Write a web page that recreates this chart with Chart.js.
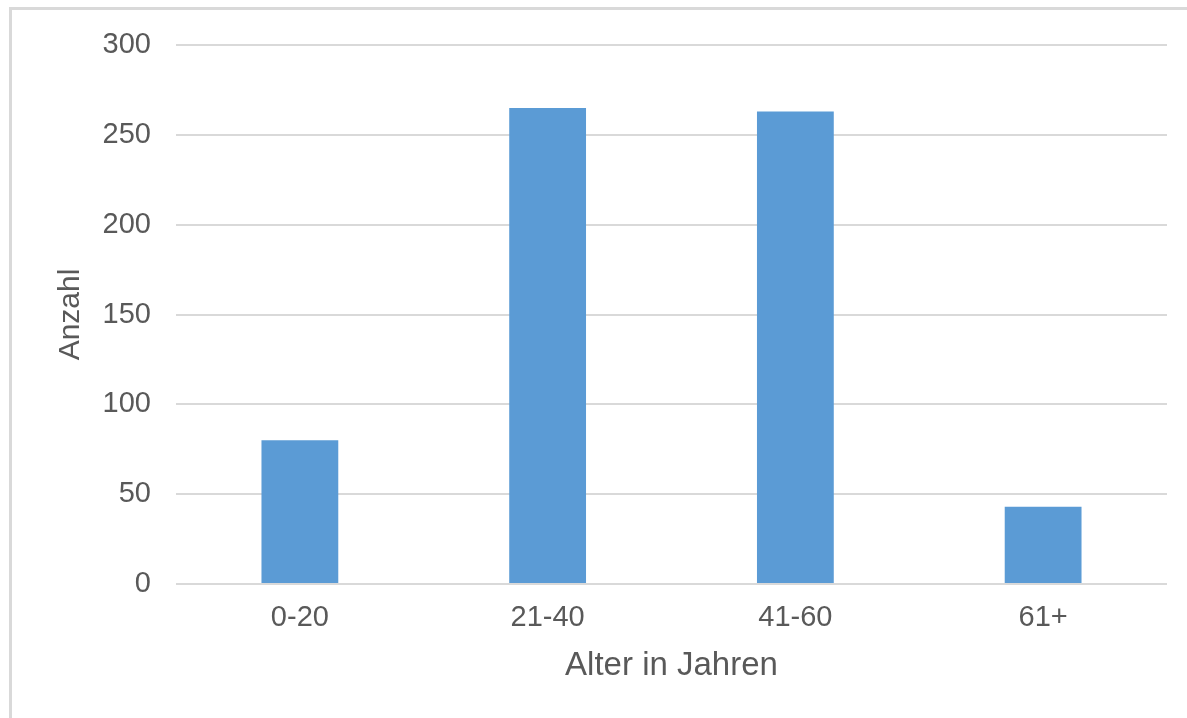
<!DOCTYPE html>
<html lang="de">
<head>
  <meta charset="UTF-8" />
  <title>Alter in Jahren</title>
  <script src="https://cdn.jsdelivr.net/npm/chart.js"></script>
  <style>
    html, body {
      margin: 0;
      padding: 0;
      background: #fff;
      overflow: hidden;
    }
    .frame {
      position: absolute;
      left: 9px;
      top: 7px;
      width: 2000px;
      height: 2000px;
      border-top: 3px solid #d9d9d9;
      border-left: 3px solid #d9d9d9;
    }
    .chart-box {
      position: absolute;
      left: 0;
      top: 0;
      width: 1187px;
      height: 718px;
    }
  </style>
</head>
<body>
  <div class="frame"></div>
  <div class="chart-box">
    <canvas id="ageChart"></canvas>
  </div>
  <script>
    const categories = ["0-20", "21-40", "41-60", "61+"];
    const counts = [80, 265, 263, 43];
    const yTicks = [0, 50, 100, 150, 200, 250, 300];

    const textColor = "#595959";
    const fontFamily = "'Liberation Sans', Arial, sans-serif";

    const ctx = document.getElementById("ageChart").getContext("2d");
    new Chart(ctx, {
      type: "bar",
      data: {
        labels: categories,
        datasets: [{
          label: "Anzahl",
          data: counts,
          backgroundColor: "#5b9bd5",
          barPercentage: 0.31,
          categoryPercentage: 1.0
        }]
      },
      options: {
        responsive: true,
        maintainAspectRatio: false,
        animation: false,
        layout: {
          padding: { left: 49, right: 20, top: 45, bottom: 32 }
        },
        plugins: {
          legend: { display: false },
          tooltip: { enabled: false }
        },
        scales: {
          x: {
            afterFit: (scale) => { scale.height = 102; },
            grid: { display: false },
            border: { display: false },
            ticks: {
              color: textColor,
              padding: 9,
              font: { family: fontFamily, size: 29 }
            },
            title: {
              display: true,
              text: "Alter in Jahren",
              color: textColor,
              padding: { top: 0, bottom: 0 },
              font: { family: fontFamily, size: 33 }
            }
          },
          y: {
            min: 0,
            max: 300,
            afterFit: (scale) => { scale.width = 127; },
            afterBuildTicks: (scale) => {
              scale.ticks = yTicks.map(v => ({ value: v }));
            },
            grid: {
              color: "#d9d9d9",
              lineWidth: 2,
              drawTicks: false
            },
            border: { display: false },
            ticks: {
              color: textColor,
              padding: 25,
              font: { family: fontFamily, size: 29 }
            },
            title: {
              display: true,
              text: "Anzahl",
              color: textColor,
              padding: 4,
              font: { family: fontFamily, size: 30 }
            }
          }
        }
      }
    });
  </script>
</body>
</html>
